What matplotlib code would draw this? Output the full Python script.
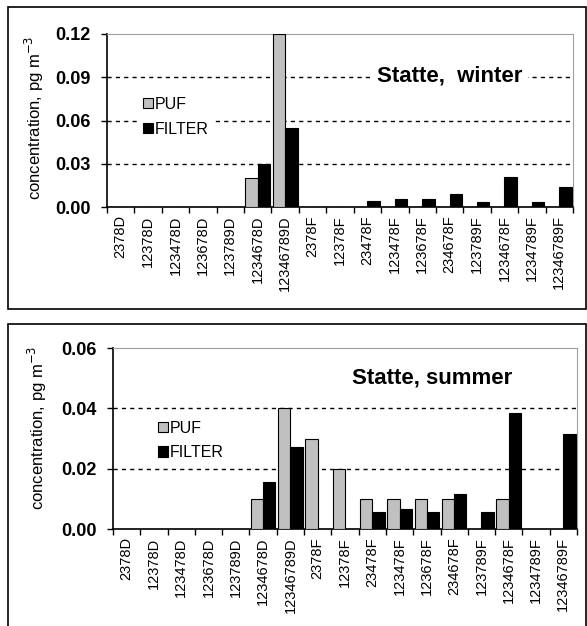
import numpy as np
import matplotlib
matplotlib.use("Agg")
import matplotlib.pyplot as plt
from matplotlib.patches import Rectangle

plt.rcParams['font.family'] = ['Liberation Sans', 'DejaVu Sans']

# congeners on the x axis
congeners = ['2378D', '12378D', '123478D', '123678D', '123789D', '1234678D', '12346789D',
             '2378F', '12378F', '23478F', '123478F', '123678F', '234678F', '123789F',
             '1234678F', '1234789F', '12346789F']

# winter, pg m-3
winter_puf = [0, 0, 0, 0, 0, 0.020, 0.120,
              0, 0, 0, 0, 0, 0, 0, 0, 0, 0]
winter_filter = [0, 0, 0, 0, 0, 0.030, 0.055,
                 0, 0, 0.0045, 0.0058, 0.0058, 0.0092, 0.0035, 0.0206, 0.0035, 0.0137]

# summer, pg m-3
summer_puf = [0, 0, 0, 0, 0, 0.010, 0.040,
              0.030, 0.020, 0.010, 0.010, 0.010, 0.010, 0, 0.010, 0, 0]
summer_filter = [0, 0, 0, 0, 0, 0.0155, 0.0272,
                 0, 0, 0.0055, 0.0065, 0.0055, 0.0116, 0.0055, 0.0386, 0, 0.0314]

winter_ticks = [0.00, 0.03, 0.06, 0.09, 0.12]
summer_ticks = [0.00, 0.02, 0.04, 0.06]

W, H = 587, 626
fig = plt.figure(figsize=(W / 100, H / 100), dpi=100)


def px_axes(left, top, right, bottom):
    return fig.add_axes([left / W, 1 - bottom / H, (right - left) / W, (bottom - top) / H])


def draw_panel(ax, puf, filt, ticks, title, title_xy, leg_anchor, ylab_xy):
    x = np.arange(len(congeners))
    w = 0.45
    ax.bar(x - w / 2, puf, w, color='#c0c0c0', edgecolor='black', linewidth=0.8, label='PUF', zorder=3)
    ax.bar(x + w / 2, filt, w, color='black', edgecolor='black', linewidth=0.8, label='FILTER', zorder=3)
    ax.set_xlim(-0.5, len(congeners) - 0.5)
    ax.set_ylim(ticks[0], ticks[-1])
    ax.set_yticks(ticks)
    ax.set_yticklabels(['%.2f' % t for t in ticks], fontweight='bold', fontsize=13)
    for t in ticks[1:-1]:
        ax.axhline(t, color='black', linestyle=(0, (3, 3)), linewidth=1, zorder=1)
    ax.set_xticks(x)
    ax.set_xticklabels(congeners, rotation=90, fontsize=10.5)
    ax.set_xticks(np.arange(-0.5, len(congeners)), minor=True)
    ax.tick_params(axis='x', which='major', length=0, pad=6)
    ax.tick_params(axis='x', which='minor', length=4, width=1, direction='out')
    ax.tick_params(axis='y', length=4, width=1, direction='out', pad=8)
    for s in ['top', 'right']:
        ax.spines[s].set_color('#a0a0a0')
    for s in ['left', 'bottom']:
        ax.spines[s].set_linewidth(1.2)
    ax.text(title_xy[0], title_xy[1], title, transform=ax.transAxes, ha='center', va='center',
            fontsize=16, fontweight='bold', zorder=5,
            bbox=dict(facecolor='white', edgecolor='none', pad=4))
    leg = ax.legend(loc='upper left', bbox_to_anchor=leg_anchor, frameon=True, fontsize=11.5,
                    handlelength=0.6, handleheight=0.6, handletextpad=0.15, labelspacing=0.6,
                    borderpad=0.3, fancybox=False)
    leg.get_frame().set_edgecolor('none')
    leg.get_frame().set_facecolor('white')
    leg.get_frame().set_alpha(1)
    leg.set_zorder(5)
    fig.text(ylab_xy[0] / W, 1 - ylab_xy[1] / H, 'concentration, pg m$^{-3}$', rotation=90,
             ha='center', va='center', fontsize=12)


# outer boxes
fig.patches.append(Rectangle((8 / W, 1 - 309 / H), 578 / W, 302 / H, transform=fig.transFigure,
                             fill=False, edgecolor='black', linewidth=1.2))
fig.patches.append(Rectangle((8 / W, -0.05), 578 / W, 1 - 324 / H + 0.05, transform=fig.transFigure,
                             fill=False, edgecolor='black', linewidth=1.2))

ax1 = px_axes(107, 34, 573, 207)
draw_panel(ax1, winter_puf, winter_filter, winter_ticks, 'Statte,  winter',
           ((449.5 - 107) / 466, (207 - 76) / 173), (0.05, 0.71), (34, 118))

ax2 = px_axes(113, 348, 577, 529)
draw_panel(ax2, summer_puf, summer_filter, summer_ticks, 'Statte, summer',
           ((432 - 113) / 464, (529 - 378) / 181), (0.07, 0.67), (37, 428))

fig.savefig('out.png', dpi=100)
